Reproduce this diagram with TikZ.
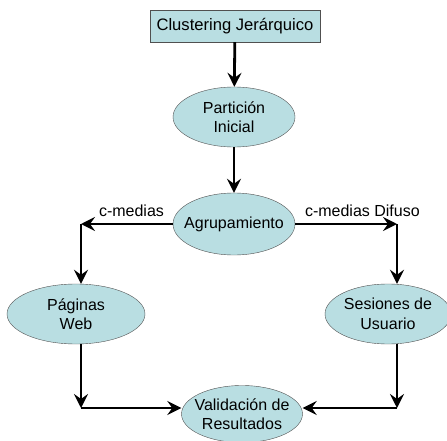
\documentclass[tikz,border=0pt]{standalone}
\usepackage{fontspec}
\setmainfont{Liberation Sans}
\usetikzlibrary{arrows.meta,shapes.geometric}
\definecolor{nodecyan}{RGB}{185, 222, 226}
\definecolor{edgegray}{RGB}{80, 80, 80}

\begin{document}
\begin{tikzpicture}[x=1pt, y=-1pt,
    every node/.style={font=\fontsize{16}{19.5}\selectfont},
    stage/.style={ellipse, draw=edgegray, fill=nodecyan, minimum width=122pt, minimum height=60pt, inner sep=-7pt, align=center},
    flow/.style={line width=2.8pt, -{Stealth[length=14pt, width=14pt, inset=5pt]}}]
                \useasboundingbox (0,0) rectangle (447,441);
                % Nodes of the process
                \node[draw=edgegray, fill=nodecyan, minimum width=170pt, minimum height=32pt, inner sep=0pt, font=\fontsize{16.6}{19}\selectfont] (clus) at (235,26) {Clustering Jerárquico};
                \node[stage] (part) at (234,117) {Partición\\Inicial};
                \node[stage, minimum height=62pt] (agr) at (234,224) {Agrupamiento};
                \node[stage, minimum width=138pt] (pag) at (76,314) {Páginas\\Web};
                \node[stage, minimum width=126pt] (ses) at (388,314) {Sesiones de\\Usuario};
                \node[stage, minimum width=121pt, minimum height=57pt] (val) at (242,414) {Validación de\\Resultados};
                % Corners of the two branches
                \coordinate (cl) at (81,224);
                \coordinate (cr) at (397,224);
                \coordinate (bl) at (81,408);
                \coordinate (br) at (397,408);
                % Connectors
                \draw[flow] (clus) -- (part);
                \draw[flow] (part) -- (agr);
                \draw[flow] (agr.west) -- node[above, yshift=3pt, pos=0.45] {c-medias} (cl);
                \draw[flow] (agr.east) -- node[above, yshift=3pt, pos=0.66] {c-medias Difuso} (cr);
                \draw[flow] (cl) -- (cl |- pag.north);
                \draw[flow] (cr) -- (cr |- ses.north);
                \draw[flow] (bl |- pag.south) -- (bl);
                \draw[flow] (br |- ses.south) -- (br);
                \draw[flow] (bl) -- (val.west |- bl);
                \draw[flow] (br) -- (val.east |- br);
            \end{tikzpicture}
\end{document}
